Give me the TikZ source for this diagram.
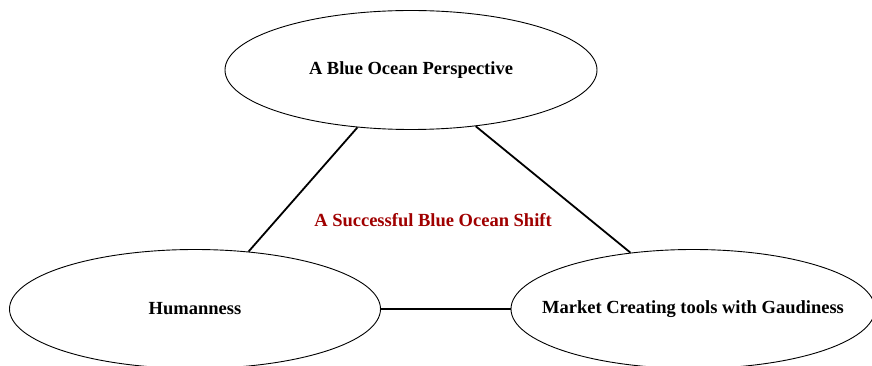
\documentclass[tikz,border=0pt]{standalone}
\usepackage{fontspec}
\setmainfont{Liberation Serif}
\usetikzlibrary{shapes.geometric}
\definecolor{shiftred}{HTML}{A00000}
% text set in a box of zero width, so that the ellipse keeps its given size
\newcommand{\ovaltext}[1]{\makebox[0pt]{#1}}
\begin{document}
\begin{tikzpicture}[x=1pt,y=-1pt,
  label font/.style={font=\fontsize{18.5}{22}\selectfont\bfseries},
  oval/.style={ellipse, draw=black, line width=0.9pt, inner sep=0pt,
    minimum width=#1, minimum height=119pt, label font},
  link/.style={draw=black, line width=1.8pt}]
  \useasboundingbox (0,0) rectangle (872,366);
  \fill[white] (0,0) rectangle (872,366);
  \node[oval=372pt] (top) at (411,70) {\ovaltext{A Blue Ocean Perspective}};
  \node[oval=371pt] (left) at (195,309) {\ovaltext{Humanness}};
  \node[oval=364pt] (right) at (693,309) {\ovaltext{Market Creating tools with Gaudiness}};
  \node[text=shiftred, label font] (shift) at (433,220) {A Successful Blue Ocean Shift};
  \draw[link] (top.227) -- (left.47.6);
  \draw[link] (top.319) -- (right.138.4);
  \draw[link] (left.east) -- (right.west);
\end{tikzpicture}
\end{document}
